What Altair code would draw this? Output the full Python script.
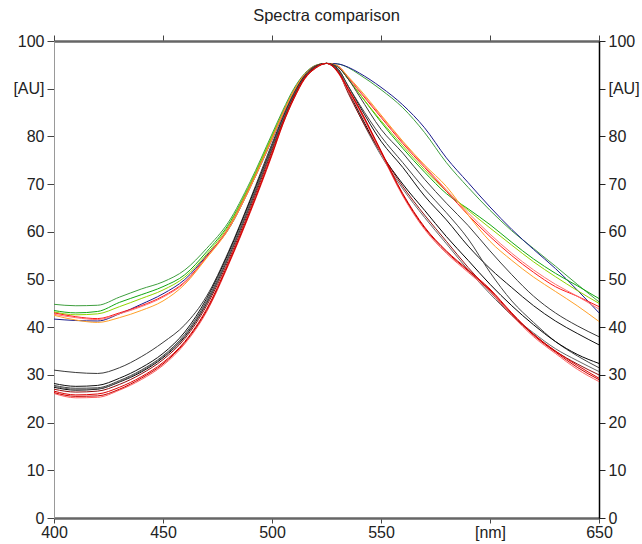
import altair as alt
import pandas as pd

# wavelength grid [nm]
nm = [400, 410, 420, 430, 440, 450, 460, 470, 480, 490, 500, 505, 510, 515, 520, 525,
      530, 535, 540, 550, 560, 570, 580, 590, 600, 610, 620, 630, 640, 650]

# coloured (broad) spectra
broad_green = [44.8, 44.5, 44.6, 46.3, 48.0, 49.5, 52.0, 56.5, 62.0, 70.5, 80.5, 85.5, 90.0, 93.2, 94.9, 95.3,
               95.2, 94.4, 93.0, 89.8, 86.0, 80.8, 74.5, 69.3, 64.5, 60.2, 56.5, 52.8, 49.0, 45.3]
blue = [41.7, 41.4, 41.3, 42.8, 44.8, 47.0, 50.0, 55.0, 60.5, 69.3, 79.3, 84.5, 89.3, 93.0, 94.8, 95.3,
        95.2, 94.5, 93.3, 90.3, 86.6, 81.8, 75.5, 70.3, 65.2, 60.5, 56.3, 52.3, 47.8, 43.0]
mid_green = [43.5, 43.0, 43.3, 45.2, 46.8, 48.5, 51.0, 55.8, 61.5, 70.0, 80.0, 85.0, 89.6, 93.0, 94.8, 95.3,
             94.7, 92.0, 89.0, 83.0, 77.5, 72.5, 68.0, 64.8, 61.5, 57.8, 54.3, 51.3, 48.7, 46.0]
lime = [43.2, 42.6, 42.8, 44.3, 46.0, 47.8, 50.5, 55.3, 61.2, 70.0, 80.0, 85.0, 89.6, 93.0, 94.8, 95.3,
        94.7, 92.0, 89.0, 83.3, 78.0, 73.0, 68.5, 64.5, 60.8, 57.2, 53.7, 50.6, 47.7, 45.0]
red_mid = [43.0, 42.2, 41.8, 43.0, 44.5, 46.5, 49.5, 54.8, 60.8, 69.5, 79.5, 84.8, 89.5, 93.0, 94.8, 95.3,
           94.8, 92.3, 89.5, 84.0, 78.5, 73.5, 68.5, 63.5, 59.0, 55.0, 51.5, 48.5, 46.5, 44.3]
salmon = [42.7, 42.0, 41.6, 42.8, 44.3, 46.3, 49.3, 54.6, 60.6, 69.3, 79.4, 84.7, 89.4, 93.0, 94.8, 95.3,
          94.8, 92.4, 89.7, 84.3, 78.8, 73.8, 68.8, 64.0, 59.5, 55.5, 52.0, 49.0, 46.5, 43.8]
orange = [42.5, 41.5, 41.0, 42.0, 43.5, 45.5, 49.0, 54.5, 60.5, 69.3, 79.5, 84.8, 89.5, 93.0, 94.8, 95.3,
          94.8, 92.5, 90.0, 84.5, 79.0, 74.0, 69.5, 63.5, 58.0, 54.0, 50.5, 47.5, 44.5, 41.2]

# narrow spectra
black_top = [31.0, 30.5, 30.3, 31.5, 33.8, 36.8, 40.5, 46.5, 55.8, 66.8, 78.5, 84.0, 89.0, 92.8, 94.8, 95.3,
             94.6, 92.0, 88.5, 81.5, 76.5, 71.0, 66.0, 61.3, 56.0, 51.0, 46.5, 43.0, 40.3, 38.0]
black2 = [28.2, 27.6, 27.8, 29.3, 31.5, 34.5, 39.0, 46.0, 55.5, 66.5, 78.0, 83.8, 88.8, 92.6, 94.6, 95.3,
          94.3, 90.5, 86.5, 79.0, 73.5, 67.5, 62.5, 57.0, 52.3, 48.3, 44.5, 41.3, 38.7, 36.3]
black3 = [27.8, 27.2, 27.3, 28.8, 31.0, 34.0, 38.5, 45.5, 55.0, 66.0, 77.8, 83.6, 88.7, 92.5, 94.6, 95.3,
          94.2, 90.5, 86.8, 80.0, 74.5, 69.0, 64.0, 58.5, 51.5, 45.5, 41.0, 37.0, 34.0, 31.5]
black4 = [27.4, 26.8, 27.0, 28.5, 30.6, 33.6, 38.0, 45.0, 54.6, 65.6, 77.5, 83.4, 88.5, 92.5, 94.5, 95.3,
          94.0, 89.5, 85.0, 76.5, 70.0, 64.5, 59.0, 54.0, 49.0, 44.5, 40.5, 37.0, 34.3, 32.4]
gray = [27.6, 27.0, 27.1, 28.6, 30.8, 33.8, 38.2, 45.2, 54.8, 65.8, 77.6, 83.5, 88.6, 92.5, 94.5, 95.3,
        94.0, 89.3, 84.5, 76.0, 69.0, 63.0, 57.5, 52.0, 47.0, 42.5, 38.8, 35.5, 33.0, 30.7]
dark_red = [27.0, 26.4, 26.6, 28.0, 30.2, 33.2, 37.6, 44.5, 54.0, 65.0, 77.0, 83.0, 88.3, 92.4, 94.5, 95.3,
            93.8, 89.0, 84.5, 76.5, 69.5, 63.5, 58.0, 52.5, 47.5, 42.5, 38.5, 35.0, 32.3, 30.0]
red_a = [26.6, 25.8, 26.0, 27.4, 29.6, 32.6, 37.0, 43.8, 53.5, 64.5, 76.5, 82.8, 88.0, 92.2, 94.4, 95.3,
         93.7, 90.0, 86.0, 77.0, 68.0, 61.0, 56.0, 52.0, 48.0, 43.0, 38.5, 35.0, 32.0, 29.3]
red_b = [26.1, 25.2, 25.3, 26.8, 29.0, 32.0, 36.5, 43.2, 53.0, 64.0, 76.0, 82.5, 87.8, 92.0, 94.3, 95.3,
         93.5, 89.5, 85.5, 76.5, 67.5, 60.5, 55.5, 51.5, 47.5, 42.5, 38.0, 34.5, 31.2, 28.6]
red_c = [26.3, 25.5, 25.6, 27.0, 29.3, 32.3, 36.8, 43.5, 53.2, 64.2, 76.2, 82.6, 87.9, 92.1, 94.3, 95.3,
         93.6, 89.8, 85.8, 76.8, 67.8, 60.8, 55.8, 51.8, 47.8, 42.8, 38.3, 34.8, 31.6, 29.0]

series = {
    "broad_green": (broad_green, "#3f9f3f"),
    "blue": (blue, "#1a1a8c"),
    "mid_green": (mid_green, "#12a812"),
    "lime": (lime, "#8fd400"),
    "red_mid": (red_mid, "#ff1a1a"),
    "salmon": (salmon, "#ff7070"),
    "orange": (orange, "#ffa028"),
    "black_top": (black_top, "#3a3a3a"),
    "black2": (black2, "#111111"),
    "black3": (black3, "#444444"),
    "black4": (black4, "#000000"),
    "gray": (gray, "#666666"),
    "dark_red": (dark_red, "#8b1010"),
    "red_a": (red_a, "#e00000"),
    "red_b": (red_b, "#ff6060"),
    "red_c": (red_c, "#c80000"),
}

rows = []
for name, (vals, _) in series.items():
    for w, v in zip(nm, vals):
        rows.append({"series": name, "nm": w, "value": v})
df = pd.DataFrame(rows)

names = list(series.keys())
colors = [series[k][1] for k in names]

FONT = "Liberation Sans"
xscale = alt.Scale(domain=[400, 650], nice=False, zero=False)
yscale = alt.Scale(domain=[0, 100], nice=False)
xticks = [400, 450, 500, 550, 600, 650]
yticks = list(range(0, 101, 10))

lines = alt.Chart(df).mark_line(strokeWidth=1, interpolate="monotone", clip=True).encode(
    x=alt.X("nm:Q", scale=xscale, title=None,
            axis=alt.Axis(orient="bottom", values=xticks, grid=False,
                          labelExpr="datum.value == 600 ? '[nm]' : datum.label",
                          domainColor="#666666", domainWidth=2.5, tickColor="#444444",
                          tickSize=5, tickWidth=1, labelFontSize=16, labelColor="#222222",
                          labelFont=FONT, labelPadding=1, labelFlush=False)),
    y=alt.Y("value:Q", scale=yscale, title=None,
            axis=alt.Axis(orient="left", values=yticks, grid=False,
                          labelExpr="datum.value == 90 ? '[AU]' : datum.label",
                          domainColor="#999999", domainWidth=1, tickColor="#444444",
                          tickSize=7, tickWidth=1, labelFontSize=16, labelColor="#222222",
                          labelFont=FONT, labelPadding=3)),
    color=alt.Color("series:N", scale=alt.Scale(domain=names, range=colors), legend=None),
    order=alt.Order("series:N"),
)

frame = alt.Chart(df).mark_point(opacity=0).encode(
    x=alt.X("nm:Q", scale=xscale, title=None,
            axis=alt.Axis(orient="top", values=xticks, grid=False, labels=False,
                          domainColor="#666666", domainWidth=2.5, tickColor="#444444",
                          tickSize=6, tickWidth=1)),
    y=alt.Y("value:Q", scale=yscale, title=None,
            axis=alt.Axis(orient="right", values=yticks, grid=False,
                          labelExpr="datum.value == 90 ? '[AU]' : datum.label",
                          domainColor="#000000", domainWidth=1.5, tickColor="#222222",
                          tickSize=6, tickWidth=1, labelFontSize=16, labelColor="#222222",
                          labelFont=FONT, labelPadding=3)),
)

chart = alt.layer(lines, frame).resolve_axis(x="independent", y="independent").properties(
    width=545, height=477,
    title=alt.TitleParams("Spectra comparison", font=FONT, fontSize=16.5, fontWeight="normal",
                          color="#222222", anchor="middle", offset=9),
    autosize=alt.AutoSizeParams(type="none"),
    padding={"left": 54, "top": 41, "right": 43, "bottom": 26},
).configure_view(stroke=None).configure(background="white")

chart.save("out.html", embed_options={"renderer": "svg", "actions": False})
